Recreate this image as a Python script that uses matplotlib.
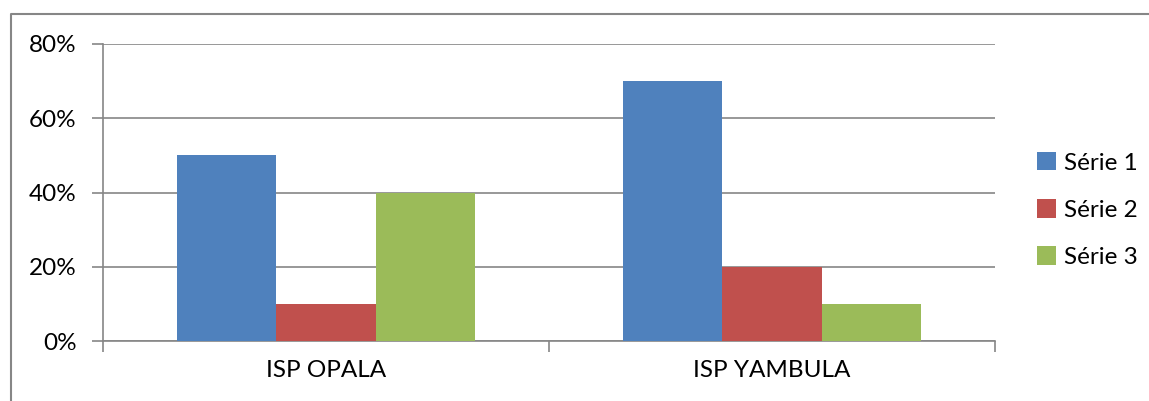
import numpy as np
import matplotlib
matplotlib.use("Agg")
import matplotlib.pyplot as plt
from matplotlib.lines import Line2D
from matplotlib.ticker import PercentFormatter

categories = ["ISP OPALA", "ISP YAMBULA"]
series_names = ["Série 1", "Série 2", "Série 3"]
serie1 = [50, 70]
serie2 = [10, 20]
serie3 = [40, 10]
colors = ["#4F81BD", "#C0504D", "#9BBB59"]

plt.rcParams['font.family'] = ['Lato', 'DejaVu Sans']
W, H = 1149, 401
fig = plt.figure(figsize=(W / 100, H / 100), dpi=100)
ax = fig.add_axes([103 / W, (H - 341) / H, (995 - 103) / W, (341 - 44) / H])

# chart border, cut off on the right and bottom as in the screenshot
bx, by = 10.5 / W, (H - 13.5) / H
fig.lines.append(Line2D([bx, bx, 1.01], [-0.01, by, by], transform=fig.transFigure,
                        color="#868686", linewidth=1.5))

x = np.arange(len(categories))
bw = 1 / 4.5
for i, vals in enumerate([serie1, serie2, serie3]):
    ax.bar(x + (i - 1) * bw, vals, width=bw, color=colors[i], label=series_names[i], zorder=3)

ax.set_xlim(-0.5, 1.5)
ax.set_ylim(0, 80)
ax.set_yticks([0, 20, 40, 60, 80])
ax.yaxis.set_major_formatter(PercentFormatter(decimals=0))
ax.yaxis.grid(True, color="#868686", linewidth=1.2, zorder=0)
ax.set_axisbelow(True)

ax.set_xticks([-0.5, 0.5, 1.5])
ax.set_xticklabels([])
ax.set_xticks(x, minor=True)
ax.set_xticklabels(categories, minor=True)
ax.tick_params(axis="x", which="minor", length=0, pad=14, labelsize=17.5)
ax.tick_params(axis="x", which="major", length=8, color="#868686", width=1.2)
ax.tick_params(axis="y", length=8, color="#868686", width=1.2, labelsize=17.5, pad=11)

for s in ["top", "right"]:
    ax.spines[s].set_visible(False)
for s in ["left", "bottom"]:
    ax.spines[s].set_color("#868686")
    ax.spines[s].set_linewidth(1.2)

ax.legend(loc="center left", bbox_to_anchor=(1015 / W, (H - 210) / H),
          bbox_transform=fig.transFigure, frameon=False, fontsize=17.5,
          handlelength=0.8, handleheight=0.8, handletextpad=0.3, labelspacing=1.05)

fig.savefig("out.png", dpi=100)
